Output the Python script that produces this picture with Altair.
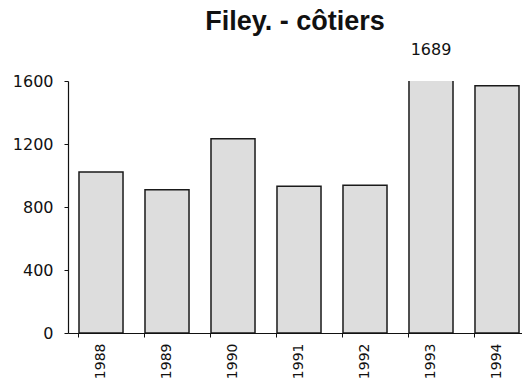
import altair as alt
import pandas as pd

years = ["1988", "1989", "1990", "1991", "1992", "1993", "1994"]
values = [1022, 910, 1234, 932, 938, 1689, 1570]
y_ticks = [0, 400, 800, 1200, 1600]
y_max = 1600
title_text = "Filey. - côtiers"

df = pd.DataFrame({"year": years, "value": values})

x_scale = alt.Scale(paddingInner=0.333, paddingOuter=0.106, align=0.786)
y_scale = alt.Scale(domain=[0, y_max], nice=False, zero=True)

num_font = "DejaVu Sans"

bars = alt.Chart(df).mark_bar(
    fill="#dddddd", stroke="#1a1a1a", strokeWidth=1.5, clip=True
).encode(
    x=alt.X("year:N", sort=years, scale=x_scale,
            axis=alt.Axis(title=None, labelAngle=270, labelFont=num_font,
                          labelFontSize=14, labelColor="#111", ticks=False,
                          labelPadding=10, domainColor="#111", domainWidth=1.2)),
    y=alt.Y("value:Q", scale=y_scale,
            axis=alt.Axis(title=None, values=y_ticks, grid=False, labelFont=num_font,
                          labelFontSize=16, labelColor="#111", tickSize=4,
                          tickColor="#111", labelPadding=11, domainColor="#111",
                          domainWidth=1.2, format="d")),
)

ticks_axis = alt.Chart(df).mark_text(opacity=0).encode(
    x=alt.X("year:N", sort=years, scale=x_scale,
            axis=alt.Axis(title=None, labels=False, domain=False, bandPosition=0,
                          orient="bottom", tickSize=4, tickColor="#111")),
    text=alt.Text("year:N"),
)

over = alt.Chart(df).transform_filter(
    alt.datum.value > y_max
).mark_text(dy=-26, baseline="alphabetic", font=num_font, fontSize=16, color="#111").encode(
    x=alt.X("year:N", sort=years, scale=x_scale, axis=None),
    y=alt.datum(y_max),
    text=alt.Text("value:Q", format="d"),
)

chart = alt.layer(bars, ticks_axis, over).resolve_axis(x="independent").properties(
    width=454,
    height=252,
    title=alt.TitleParams(title_text, font="Liberation Sans", fontSize=27,
                          fontWeight="bold", color="#111", anchor="middle",
                          frame="group", offset=-15, baseline="alphabetic"),
    autosize=alt.AutoSizeParams(type="none"),
    padding={"left": 60, "top": 73, "right": 0, "bottom": 47},
).configure_view(stroke=None).configure_axisBottom(labelFontSize=14, labelFont=num_font)

chart.save("out.html", embed_options={"renderer": "svg", "actions": False})
